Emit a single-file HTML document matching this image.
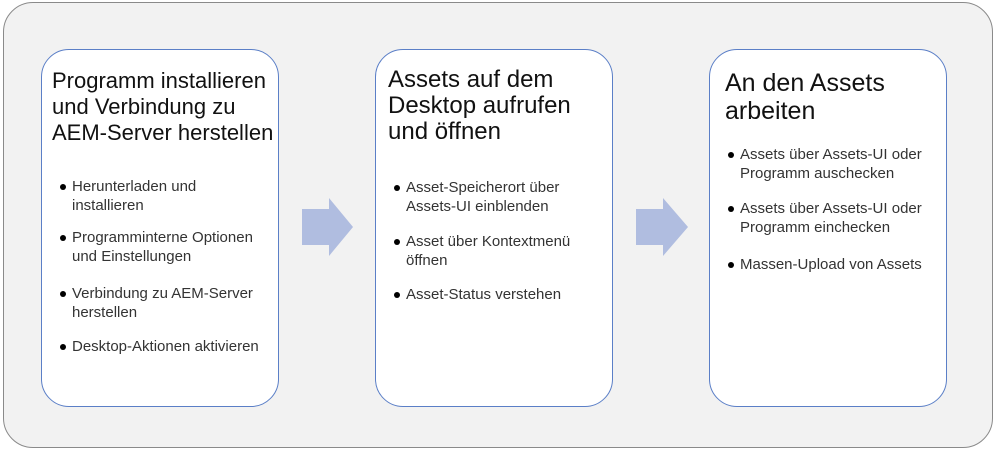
<!DOCTYPE html>
<html><head><meta charset="utf-8"><style>
body{margin:0;width:996px;height:450px;background:#fff;position:relative;font-family:"Liberation Sans",sans-serif;overflow:hidden}
.outer{position:absolute;left:3px;top:2px;width:988px;height:444px;border:1.5px solid #8a8a8a;border-radius:30px;background:#f2f2f2}
.box{position:absolute;top:49px;width:236px;height:356px;border:1.5px solid #5b7fc7;border-radius:28px;background:#fff}
.t{position:absolute;left:10px;top:18px;font-size:22px;line-height:26px;color:#111;white-space:nowrap}
.b{position:absolute;left:30px;font-size:15px;line-height:19px;color:#333;white-space:nowrap}
.b:before{content:"";position:absolute;left:-12px;top:7px;width:6px;height:6px;border-radius:50%;background:#000}
svg{position:absolute}
</style></head><body>
<div class="outer"></div>
<div class="box" style="left:41px">
<div class="t">Programm installieren<br>und Verbindung zu<br>AEM-Server herstellen</div>
<div class="b" style="top:127px">Herunterladen und<br>installieren</div>
<div class="b" style="top:178px">Programminterne Optionen<br>und Einstellungen</div>
<div class="b" style="top:234px">Verbindung zu AEM-Server<br>herstellen</div>
<div class="b" style="top:287px">Desktop-Aktionen aktivieren</div>
</div>
<div class="box" style="left:375px">
<div class="t" style="font-size:24px;top:17px;left:12px">Assets auf dem<br>Desktop aufrufen<br>und öffnen</div>
<div class="b" style="top:128px">Asset-Speicherort über<br>Assets-UI einblenden</div>
<div class="b" style="top:182px">Asset über Kontextmenü<br>öffnen</div>
<div class="b" style="top:235px">Asset-Status verstehen</div>
</div>
<div class="box" style="left:709px">
<div class="t" style="font-size:25px;line-height:28px;left:15px;top:19px">An den Assets<br>arbeiten</div>
<div class="b" style="top:95px">Assets über Assets-UI oder<br>Programm auschecken</div>
<div class="b" style="top:149px">Assets über Assets-UI oder<br>Programm einchecken</div>
<div class="b" style="top:205px">Massen-Upload von Assets</div>
</div>
<svg width="996" height="450" style="left:0;top:0">
<polygon points="302,209 329,209 329,198 353,227 329,256 329,245 302,245" fill="#b0bde0"/>
<polygon points="636,209 663,209 663,198 688,227 663,256 663,245 636,245" fill="#b0bde0"/>
</svg>
</body></html>
